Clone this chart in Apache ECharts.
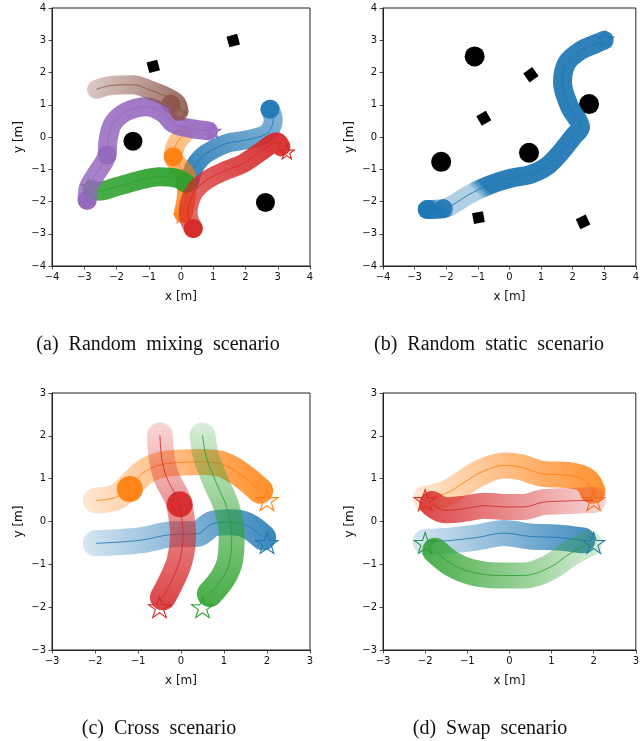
<!DOCTYPE html>
<html>
<head>
<meta charset="utf-8">
<script src="https://cdn.jsdelivr.net/npm/echarts@6/dist/echarts.min.js"></script>
<style>
html,body{margin:0;padding:0;background:#fff;}
#chart{width:642px;height:741px;}
</style>
</head>
<body>
<div id="chart"></div>
<script>
// ---------- data ----------
// (a) Random mixing scenario
const mixBlue   = [[2.76,0.86],[2.86,0.53],[2.66,0.11],[2.03,-0.09],[1.41,-0.2],[0.79,-0.51],[0.48,-0.82],[0.33,-1.13],[0.27,-1.4]];
const mixOrange = [[0.07,0.06],[-0.14,-0.2],[-0.24,-0.61],[-0.04,-0.92],[0.17,-1.23],[0.17,-1.75],[0.07,-2.37]];
const mixGreen  = [[0.17,-1.44],[-0.14,-1.28],[-0.66,-1.23],[-1.28,-1.34],[-2.0,-1.54],[-2.55,-1.68],[-2.75,-1.62]];
const mixRed    = [[0.38,-2.84],[0.22,-2.37],[0.38,-1.75],[0.79,-1.34],[1.41,-1.03],[1.93,-0.82],[2.55,-0.40],[2.97,-0.15],[3.1,-0.3]];
const mixPurple = [[-2.91,-1.96],[-2.88,-1.6],[-2.62,-1.13],[-2.31,-0.61],[-2.26,-0.09],[-2.11,0.42],[-1.69,0.79],[-1.07,0.94],[-0.55,0.74],[-0.24,0.42],[0.27,0.27],[0.85,0.19]];
const mixBrown  = [[-2.62,1.48],[-2.21,1.59],[-1.49,1.62],[-0.97,1.46],[-0.45,1.25],[-0.14,1.05],[-0.06,0.8]];
const mixGoals  = {blue:[0.27,-1.45], orange:[0.02,-2.43], green:[-2.87,-1.52], red:[3.28,-0.46], purple:[1.0,0.19], brown:[-0.04,0.72]};
const mixSolids = {blue:[[2.76,0.86]], orange:[[-0.24,-0.61]], green:[[0.12,-1.44]], red:[[0.38,-2.84]], purple:[[-2.91,-1.96],[-2.29,-0.56]], brown:[[-0.32,1.02]]};
const mixCircles = [[-1.49,-0.13],[2.62,-2.03]];
const mixSquares = [[-0.86,2.19],[1.62,2.99]];
const mixSquareRot = [15,15];

// (b) Random static scenario
const staticBlue = [[-2.6,-2.25],[-2.09,-2.22],[-1.72,-2.06],[-1.31,-1.8],[-0.64,-1.49],[0.04,-1.28],[0.66,-1.16],[1.17,-0.92],[1.62,-0.48],[2.05,0.05],[2.25,0.3],[1.9,0.95],[1.68,1.7],[1.82,2.3],[2.25,2.68],[2.75,2.9],[3.0,3.0]];
const staticGoal = [3.04,3.04];
const staticSolids = [[-2.6,-2.25],[-2.09,-2.22]];
const staticCircles = [[-1.1,2.5],[2.52,1.02],[-2.16,-0.77],[0.62,-0.49]];
const staticSquares = [[0.68,1.93],[-0.81,0.58],[-0.98,-2.5],[2.33,-2.63]];
const staticSquareRot = [35,30,10,25];

// (c) Cross scenario
const crossBlue   = [[-1.98,-0.51],[-0.96,-0.44],[-0.18,-0.3],[0.36,-0.29],[0.75,-0.05],[1.14,-0.02],[1.53,-0.09],[1.91,-0.37]];
const crossOrange = [[-1.98,0.49],[-1.5,0.57],[-1.19,0.84],[-0.8,1.19],[-0.34,1.35],[0.44,1.39],[0.9,1.35],[1.37,1.11],[1.84,0.72]];
const crossGreen  = [[0.5,2.01],[0.59,1.5],[0.83,0.88],[1.06,0.34],[1.18,-0.29],[1.14,-0.91],[0.98,-1.3],[0.67,-1.69]];
const crossRed    = [[-0.49,2.01],[-0.45,1.5],[-0.34,1.04],[-0.1,0.57],[-0.03,0.34],[0.05,-0.29],[-0.03,-0.91],[-0.22,-1.38],[-0.42,-1.77]];
const crossGoals  = {blue:[2.0,-0.5], orange:[2.0,0.5], green:[0.5,-2.0], red:[-0.5,-2.0]};
const crossSolids = {orange:[[-1.19,0.76]], red:[[-0.03,0.4]]};

// (d) Swap scenario
const swapBlue   = [[-1.99,-0.48],[-1.37,-0.44],[-0.75,-0.37],[-0.13,-0.27],[0.49,-0.35],[1.11,-0.37],[1.73,-0.44]];
const swapOrange = [[-1.99,0.53],[-1.52,0.65],[-1.06,0.92],[-0.67,1.15],[-0.13,1.31],[0.26,1.27],[0.8,1.11],[1.42,1.08],[1.81,0.96],[1.97,0.72]];
const swapGreen  = [[1.89,-0.51],[1.42,-0.76],[0.96,-1.07],[0.34,-1.26],[-0.28,-1.26],[-0.9,-1.18],[-1.37,-0.99],[-1.76,-0.68]];
const swapRed    = [[1.99,0.5],[1.42,0.48],[0.8,0.45],[0.34,0.34],[-0.13,0.34],[-0.59,0.37],[-1.06,0.3],[-1.52,0.26],[-1.83,0.41]];
const swapGoals  = {blue:[2.0,-0.5], orange:[2.0,0.5], green:[-2.0,-0.5], red:[-2.0,0.5]};

const captions = ['(a)\u2002Random\u2002mixing\u2002scenario','(b)\u2002Random\u2002static\u2002scenario','(c)\u2002Cross\u2002scenario','(d)\u2002Swap\u2002scenario'];

// ---------- style ----------
const C = {blue:'#1f77b4', orange:'#ff7f0e', green:'#2ca02c', red:'#d62728', purple:'#9467bd', brown:'#8c564b'};
function rgba(hex,a){const n=parseInt(hex.slice(1),16);return `rgba(${n>>16&255},${n>>8&255},${n&255},${a})`;}
const STAR = 'path://M50,0 L61.23,34.55 L97.55,34.55 L68.17,55.9 L79.39,90.45 L50,69.1 L20.61,90.45 L31.83,55.9 L2.45,34.55 L38.77,34.55 Z';

function grad(pts, hex, stops){
  let minx=Infinity,maxx=-Infinity,miny=Infinity,maxy=-Infinity;
  pts.forEach(p=>{minx=Math.min(minx,p[0]);maxx=Math.max(maxx,p[0]);miny=Math.min(miny,p[1]);maxy=Math.max(maxy,p[1]);});
  const w=(maxx-minx)||1,h=(maxy-miny)||1;
  const a=pts[0],b=pts[pts.length-1];
  return {type:'linear',x:(a[0]-minx)/w,y:(maxy-a[1])/h,x2:(b[0]-minx)/w,y2:(maxy-b[1])/h,
    colorStops:stops.map(s=>({offset:s[0],color:rgba(hex,s[1])}))};
}

const panels = [
  {grid:{left:52,top:8,width:258,height:258}, min:-4, max:4, band:19, star:15,
   agents:[
    {path:mixBlue,goal:mixGoals.blue,solids:mixSolids.blue,color:C.blue,stops:[[0,0.55],[0.3,0.65],[1,0.95]]},
    {path:mixOrange,goal:mixGoals.orange,solids:mixSolids.orange,color:C.orange,stops:[[0,0.4],[1,0.92]]},
    {path:mixGreen,goal:mixGoals.green,solids:mixSolids.green,color:C.green,stops:[[0,0.95],[1,0.85]]},
    {path:mixRed,goal:mixGoals.red,solids:mixSolids.red,color:C.red,stops:[[0,0.65],[1,0.95]]},
    {path:mixPurple,goal:mixGoals.purple,solids:mixSolids.purple,color:C.purple,stops:[[0,0.8],[1,0.92]]},
    {path:mixBrown,goal:mixGoals.brown,solids:mixSolids.brown,color:C.brown,stops:[[0,0.3],[1,0.92]]}
   ], circles:mixCircles, squares:mixSquares, rot:mixSquareRot, circleSize:19},
  {grid:{left:383,top:8,width:258,height:258}, min:-4, max:4, band:19, star:16,
   agents:[
    {path:staticBlue,goal:staticGoal,solids:staticSolids,color:C.blue,stops:[[0,0.95],[0.08,0.95],[0.11,0.35],[0.22,0.35],[0.26,0.95],[1,0.92]]}
   ], circles:staticCircles, squares:staticSquares, rot:staticSquareRot, circleSize:20},
  {grid:{left:52,top:393,width:258,height:257}, min:-3, max:3, band:26, star:22,
   agents:[
    {path:crossBlue,goal:crossGoals.blue,solids:[],color:C.blue,stops:[[0,0.18],[1,0.88]]},
    {path:crossOrange,goal:crossGoals.orange,solids:crossSolids.orange,color:C.orange,stops:[[0,0.18],[1,0.88]]},
    {path:crossGreen,goal:crossGoals.green,solids:[],color:C.green,stops:[[0,0.18],[1,0.88]]},
    {path:crossRed,goal:crossGoals.red,solids:crossSolids.red,color:C.red,stops:[[0,0.18],[1,0.88]]}
   ]},
  {grid:{left:383,top:393,width:258,height:257}, min:-3, max:3, band:26, star:22,
   agents:[
    {path:swapBlue,goal:swapGoals.blue,solids:[],color:C.blue,stops:[[0,0.18],[1,0.85]]},
    {path:swapOrange,goal:swapGoals.orange,solids:[],color:C.orange,stops:[[0,0.18],[1,0.85]]},
    {path:swapGreen,goal:swapGoals.green,solids:[],color:C.green,stops:[[0,0.18],[1,0.85]]},
    {path:swapRed,goal:swapGoals.red,solids:[],color:C.red,stops:[[0,0.18],[1,0.85]]}
   ]}
];
const capPos = [[158,345],[489,345],[159,729],[490,729]];

const fmt = v => String(v).replace('-', '\u2212');
const grids=[], xAxes=[], yAxes=[], series=[];
panels.forEach((P,i)=>{
  grids.push(Object.assign({show:true,borderColor:'#222',borderWidth:1,backgroundColor:'transparent',containLabel:false},P.grid));
  const common = {type:'value',min:P.min,max:P.max,interval:1,gridIndex:i,
    splitLine:{show:false}, axisLine:{show:true,onZero:false,lineStyle:{color:'#222',width:1}},
    axisTick:{show:true,length:3.5,inside:false,lineStyle:{color:'#222',width:0.8}},
    nameLocation:'middle', nameTextStyle:{fontFamily:'DejaVu Sans',fontSize:12,color:'#111'}};
  xAxes.push(Object.assign({},common,{name:'x [m]',nameGap:25,position:'bottom',
    axisLabel:{fontFamily:'DejaVu Sans',fontSize:10,color:'#111',margin:6,formatter:fmt}}));
  yAxes.push(Object.assign({},common,{name:'y [m]',nameGap:27,position:'left',
    axisLabel:{fontFamily:'DejaVu Sans',fontSize:10,color:'#111',margin:6,formatter:fmt}}));
  P.agents.forEach(A=>{
    series.push({type:'line',xAxisIndex:i,yAxisIndex:i,data:A.path,smooth:0.35,symbol:'none',silent:true,
      lineStyle:{width:P.band,cap:'round',join:'round',color:grad(A.path,A.color,A.stops)}});
    if(A.solids.length) series.push({type:'scatter',xAxisIndex:i,yAxisIndex:i,data:A.solids,symbol:'circle',
      symbolSize:P.band,silent:true,itemStyle:{color:rgba(A.color,0.92),opacity:1}});
    series.push({type:'line',xAxisIndex:i,yAxisIndex:i,data:A.path,smooth:0.35,symbol:'none',silent:true,
      lineStyle:{width:1,color:A.color,opacity:0.85}});
    series.push({type:'scatter',xAxisIndex:i,yAxisIndex:i,data:[A.goal],symbol:STAR,symbolKeepAspect:true,
      symbolSize:P.star,silent:true,itemStyle:{color:'rgba(255,255,255,0.6)',borderColor:A.color,borderWidth:1.1,opacity:1}});
  });
  if(P.circles) series.push({type:'scatter',xAxisIndex:i,yAxisIndex:i,data:P.circles,symbol:'circle',
    symbolSize:P.circleSize,silent:true,itemStyle:{color:'#000',opacity:1}});
  if(P.squares) series.push({type:'scatter',xAxisIndex:i,yAxisIndex:i,
    data:P.squares.map((p,k)=>({value:p,symbolRotate:P.rot[k]})),symbol:'rect',
    symbolSize:11,silent:true,itemStyle:{color:'#000',opacity:1}});
});

const graphic = captions.map((t,k)=>({type:'text',x:capPos[k][0],y:capPos[k][1],silent:true,
  style:{text:t,font:'20px "Liberation Serif", "Times New Roman", serif',fill:'#111',textAlign:'center',verticalAlign:'middle'}}));

const chart = echarts.init(document.getElementById('chart'),null,{renderer:'canvas'});
chart.setOption({animation:false,backgroundColor:'#fff',grid:grids,xAxis:xAxes,yAxis:yAxes,series:series,graphic:graphic});
</script>
</body>
</html>
